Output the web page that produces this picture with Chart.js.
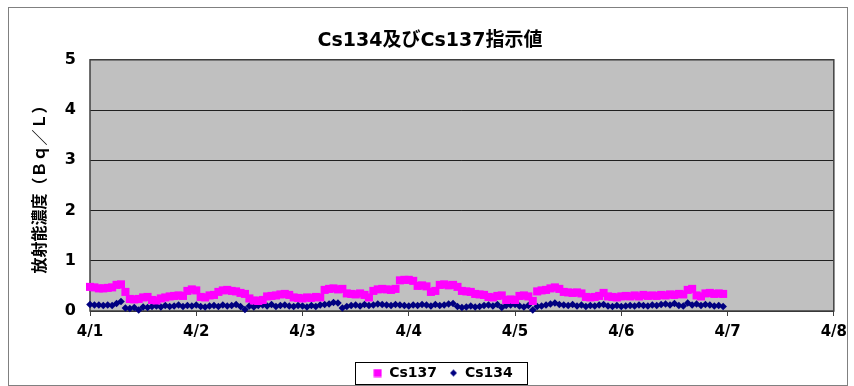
<!DOCTYPE html>
<html>
<head>
<meta charset="utf-8">
<script src="https://cdn.jsdelivr.net/npm/chart.js@4.4.1/dist/chart.umd.min.js"></script>
<style>
  html, body { margin: 0; padding: 0; background: #fff; }
  #wrap { width: 854px; height: 386px; }
</style>
</head>
<body>
<div id="wrap"><canvas id="c" width="854" height="386"></canvas></div>
<script>
// Day tick labels for the x axis (one per day, 4/1 .. 4/8)
const dayLabels = ['4/1', '4/2', '4/3', '4/4', '4/5', '4/6', '4/7', '4/8'];
// Y axis ticks (Bq/L)
const yTicks = [0, 1, 2, 3, 4, 5];
// Hourly readings from 4/1 0:00, one value per hour
const hoursPerDay = 24;

const cs137 = [
  // 4/1
  0.48, 0.47, 0.45, 0.45, 0.46, 0.47, 0.52, 0.53, 0.38, 0.24, 0.23, 0.24,
  0.27, 0.28, 0.22, 0.21, 0.25, 0.27, 0.29, 0.30, 0.31, 0.30, 0.40, 0.43,
  // 4/2
  0.41, 0.28, 0.27, 0.31, 0.32, 0.38, 0.41, 0.42, 0.40, 0.39, 0.36, 0.34,
  0.25, 0.21, 0.20, 0.22, 0.29, 0.30, 0.31, 0.33, 0.34, 0.32, 0.27, 0.26,
  // 4/3
  0.25, 0.27, 0.26, 0.28, 0.27, 0.42, 0.44, 0.45, 0.43, 0.44, 0.35, 0.34,
  0.33, 0.35, 0.32, 0.27, 0.40, 0.43, 0.44, 0.43, 0.42, 0.44, 0.61, 0.62,
  // 4/4
  0.62, 0.60, 0.50, 0.51, 0.49, 0.38, 0.40, 0.52, 0.53, 0.51, 0.52, 0.48,
  0.40, 0.39, 0.38, 0.34, 0.33, 0.32, 0.28, 0.27, 0.30, 0.31, 0.22, 0.23,
  // 4/5
  0.22, 0.30, 0.31, 0.29, 0.20, 0.39, 0.41, 0.42, 0.45, 0.47, 0.44, 0.38,
  0.37, 0.36, 0.37, 0.35, 0.28, 0.27, 0.28, 0.30, 0.36, 0.29, 0.28, 0.27,
  // 4/6
  0.29, 0.30, 0.29, 0.31, 0.29, 0.32, 0.30, 0.31, 0.30, 0.32, 0.31, 0.33,
  0.32, 0.34, 0.33, 0.42, 0.44, 0.31, 0.29, 0.35, 0.36, 0.34, 0.35, 0.34
];

const cs134 = [
  // 4/1
  0.13, 0.12, 0.12, 0.11, 0.12, 0.11, 0.15, 0.19, 0.06, 0.05, 0.07, 0.02,
  0.08, 0.07, 0.09, 0.10, 0.08, 0.11, 0.09, 0.10, 0.12, 0.09, 0.11, 0.10,
  // 4/2
  0.12, 0.09, 0.08, 0.10, 0.11, 0.09, 0.12, 0.10, 0.11, 0.13, 0.09, 0.03,
  0.10, 0.08, 0.11, 0.12, 0.10, 0.13, 0.09, 0.11, 0.12, 0.10, 0.09, 0.11,
  // 4/3
  0.10, 0.08, 0.11, 0.09, 0.12, 0.13, 0.14, 0.17, 0.16, 0.06, 0.09, 0.11,
  0.12, 0.10, 0.13, 0.11, 0.12, 0.14, 0.13, 0.12, 0.11, 0.13, 0.12, 0.11,
  // 4/4
  0.10, 0.12, 0.11, 0.13, 0.12, 0.10, 0.13, 0.11, 0.12, 0.14, 0.15, 0.09,
  0.07, 0.08, 0.10, 0.08, 0.09, 0.11, 0.12, 0.10, 0.13, 0.07, 0.11, 0.12,
  // 4/5
  0.13, 0.10, 0.08, 0.11, 0.02, 0.09, 0.10, 0.12, 0.14, 0.16, 0.13, 0.12,
  0.11, 0.13, 0.10, 0.12, 0.09, 0.11, 0.10, 0.12, 0.13, 0.10, 0.09, 0.11,
  // 4/6
  0.09, 0.10, 0.11, 0.10, 0.12, 0.11, 0.10, 0.12, 0.11, 0.13, 0.14, 0.12,
  0.15, 0.11, 0.10, 0.16, 0.12, 0.14, 0.11, 0.13, 0.12, 0.10, 0.11, 0.09
];

const FONT = '"DejaVu Sans", "Noto Sans CJK JP", sans-serif';
const PINK = '#FF00FF';
const NAVY = '#000080';
const PLOT_BG = '#C0C0C0';
const FRAME = '#404040';
const LEGEND_FONT = 14;
const LEGEND_PAD = 12;
const LEGEND_SHIFT_X = 13;
const LEGEND_CENTER_Y = 373;

// x position in days since 4/1 0:00
const toPoints = (arr) => arr.map((v, i) => ({ x: i / hoursPerDay, y: v }));

// Small marker images for the legend
function markerImage(kind, color) {
  const c = document.createElement('canvas');
  c.width = 9; c.height = 9;
  const g = c.getContext('2d');
  g.fillStyle = color;
  if (kind === 'square') {
    g.fillRect(0.5, 0.5, 8, 8);
  } else {
    g.beginPath();
    g.moveTo(4.5, 1); g.lineTo(8, 4.5); g.lineTo(4.5, 8); g.lineTo(1, 4.5);
    g.closePath(); g.fill();
  }
  return c;
}
const legendMarks = [markerImage('square', PINK), markerImage('diamond', NAVY)];

// Canvas background, outer frame, grey plot area and legend box
const framePlugin = {
  id: 'frame',
  afterLayout(chart) {
    // move the legend block; its hit boxes are rebuilt from left/top afterwards
    const lg = chart.legend;
    if (!lg) return;
    const dy = LEGEND_CENTER_Y - (lg.top + LEGEND_PAD + LEGEND_FONT / 2);
    lg.left += LEGEND_SHIFT_X;
    lg.right += LEGEND_SHIFT_X;
    lg.top += dy;
    lg.bottom += dy;
  },
  beforeDraw(chart) {
    const { ctx, chartArea: a } = chart;
    ctx.save();
    ctx.fillStyle = '#fff';
    ctx.fillRect(0, 0, chart.width, chart.height);
    ctx.strokeStyle = '#808080';
    ctx.lineWidth = 1;
    ctx.strokeRect(8.5, 7.5, 839, 378);
    ctx.fillStyle = PLOT_BG;
    ctx.fillRect(a.left, a.top, a.right - a.left, a.bottom - a.top);
    ctx.restore();
  },
  beforeDatasetsDraw(chart) {
    const { ctx, chartArea: a } = chart;
    ctx.save();
    ctx.strokeStyle = FRAME;
    ctx.lineWidth = 1.5;
    ctx.strokeRect(a.left, a.top, a.right - a.left, a.bottom - a.top);
    ctx.restore();
  },
  afterDraw(chart) {
    const boxes = chart.legend && chart.legend.legendHitBoxes;
    if (!boxes || !boxes.length) return;
    const first = boxes[0], last = boxes[boxes.length - 1];
    const cy = first.top + first.height / 2;
    const l = Math.round(first.left - 18) + 0.5;
    const r = Math.round(last.left + last.width + 14) + 0.5;
    const t = Math.round(cy - 11) + 0.5;
    const b = Math.round(cy + 11) + 0.5;
    const { ctx } = chart;
    ctx.save();
    ctx.strokeStyle = '#000';
    ctx.lineWidth = 1;
    ctx.strokeRect(l, t, r - l, b - t);
    ctx.restore();
  }
};

new Chart(document.getElementById('c'), {
  type: 'line',
  data: {
    datasets: [
      {
        label: 'Cs137',
        data: toPoints(cs137),
        showLine: false,
        pointStyle: 'rect',
        pointRadius: 5.7,
        pointHoverRadius: 5.7,
        pointBackgroundColor: PINK,
        pointBorderWidth: 0,
        borderColor: PINK,
        backgroundColor: PINK,
        clip: false
      },
      {
        label: 'Cs134',
        data: toPoints(cs134),
        showLine: false,
        pointStyle: 'rectRot',
        pointRadius: 3.8,
        pointHoverRadius: 3.8,
        pointBackgroundColor: NAVY,
        pointBorderWidth: 0,
        borderColor: NAVY,
        backgroundColor: NAVY,
        clip: false
      }
    ]
  },
  options: {
    responsive: false,
    animation: false,
    events: [],
    layout: { padding: { left: 26, right: 20, top: 10, bottom: 0 } },
    plugins: {
      title: {
        display: true,
        text: 'Cs134及びCs137指示値',
        color: '#000',
        font: { family: FONT, size: 19, weight: 'bold' },
        padding: { top: 20, bottom: 7 }
      },
      legend: {
        position: 'bottom',
        labels: {
          color: '#000',
          font: { family: FONT, size: LEGEND_FONT, weight: 'bold' },
          usePointStyle: true,
          boxWidth: 9,
          boxHeight: 9,
          padding: LEGEND_PAD,
          generateLabels(chart) {
            return chart.data.datasets.map((ds, i) => ({
              text: ds.label,
              fillStyle: ds.pointBackgroundColor,
              strokeStyle: ds.pointBackgroundColor,
              lineWidth: 0,
              pointStyle: legendMarks[i],
              hidden: false,
              datasetIndex: i,
              fontColor: '#000'
            }));
          }
        }
      },
      tooltip: { enabled: false }
    },
    scales: {
      x: {
        type: 'linear',
        min: 0,
        max: dayLabels.length - 1,
        afterFit(scale) { scale.height = 39; },
        afterBuildTicks(scale) {
          scale.ticks = dayLabels.map((_, i) => ({ value: i }));
        },
        ticks: {
          color: '#000',
          font: { family: FONT, size: 15, weight: 'bold' },
          padding: 7,
          maxRotation: 0,
          autoSkip: false,
          callback: (v) => dayLabels[Math.round(v)]
        },
        grid: {
          drawOnChartArea: false,
          drawTicks: true,
          tickLength: 5,
          color: FRAME
        },
        border: { display: false }
      },
      y: {
        min: yTicks[0],
        max: yTicks[yTicks.length - 1],
        afterFit(scale) { scale.width = 64; },
        afterBuildTicks(scale) {
          scale.ticks = yTicks.map((v) => ({ value: v }));
        },
        ticks: {
          color: '#000',
          font: { family: FONT, size: 16, weight: 'bold' },
          padding: 14,
          callback: (v) => String(v)
        },
        grid: {
          drawTicks: false,
          color: '#202020',
          lineWidth: 1
        },
        border: { display: false },
        title: {
          display: true,
          text: '放射能濃度（Ｂｑ／Ｌ）',
          color: '#000',
          font: { family: '"Noto Sans CJK JP", sans-serif', size: 16, weight: 'bold' },
          padding: { top: 3, bottom: 0 }
        }
      }
    }
  },
  plugins: [framePlugin]
});
</script>
</body>
</html>
